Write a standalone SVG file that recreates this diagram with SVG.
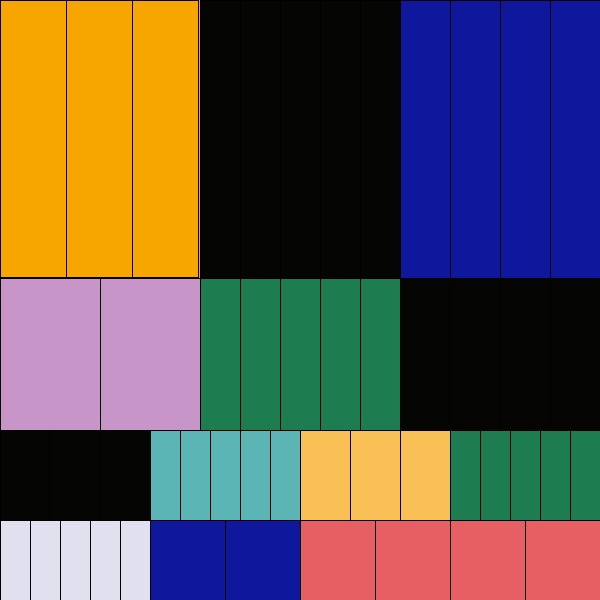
<svg xmlns="http://www.w3.org/2000/svg" width="600" height="600" viewBox="0 0 600 600">
<style>
rect{stroke:#000;stroke-width:1;shape-rendering:crispEdges}
.o{fill:#F7A600}.k{fill:#050503}.b{fill:#0F189D}.p{fill:#C795C7}.g{fill:#1D7D50}
.t{fill:#5BB5B4}.y{fill:#F8C055}.l{fill:#E1E0EE}.r{fill:#E65F63}
</style>
<g id="orange"><rect class="o" x="0" y="0" width="200" height="278" style="stroke:none"/>
<rect class="o" x="0" y="0" width="66.5" height="277.5"/><rect class="o" x="66.5" y="0" width="66" height="277.5"/><rect class="o" x="132.5" y="0" width="66" height="277.5"/></g>
<g id="black1"><rect class="k" x="200" y="0" width="40" height="278"/><rect class="k" x="240" y="0" width="40" height="278"/><rect class="k" x="280" y="0" width="40" height="278"/><rect class="k" x="320" y="0" width="40" height="278"/><rect class="k" x="360" y="0" width="40" height="278"/></g>
<g id="blue1"><rect class="b" x="400" y="0" width="50" height="278"/><rect class="b" x="450" y="0" width="50" height="278"/><rect class="b" x="500" y="0" width="50" height="278"/><rect class="b" x="550" y="0" width="50" height="278"/></g>
<g id="pink"><rect class="p" x="0" y="278" width="100" height="152"/><rect class="p" x="100" y="278" width="100" height="152"/></g>
<g id="green1"><rect class="g" x="200" y="278" width="40" height="152"/><rect class="g" x="240" y="278" width="40" height="152"/><rect class="g" x="280" y="278" width="40" height="152"/><rect class="g" x="320" y="278" width="40" height="152"/><rect class="g" x="360" y="278" width="40" height="152"/></g>
<g id="black2"><rect class="k" x="400" y="278" width="50" height="152"/><rect class="k" x="450" y="278" width="50" height="152"/><rect class="k" x="500" y="278" width="50" height="152"/><rect class="k" x="550" y="278" width="50" height="152"/></g>
<g id="black3"><rect class="k" x="0" y="430" width="50" height="90"/><rect class="k" x="50" y="430" width="50" height="90"/><rect class="k" x="100" y="430" width="50" height="90"/></g>
<g id="teal"><rect class="t" x="150" y="430" width="30" height="90"/><rect class="t" x="180" y="430" width="30" height="90"/><rect class="t" x="210" y="430" width="30" height="90"/><rect class="t" x="240" y="430" width="30" height="90"/><rect class="t" x="270" y="430" width="30" height="90"/></g>
<g id="lightorange"><rect class="y" x="300" y="430" width="50" height="90"/><rect class="y" x="350" y="430" width="50" height="90"/><rect class="y" x="400" y="430" width="50" height="90"/></g>
<g id="green2"><rect class="g" x="450" y="430" width="30" height="90"/><rect class="g" x="480" y="430" width="30" height="90"/><rect class="g" x="510" y="430" width="30" height="90"/><rect class="g" x="540" y="430" width="30" height="90"/><rect class="g" x="570" y="430" width="30" height="90"/></g>
<g id="lavender"><rect class="l" x="0" y="520" width="30" height="80"/><rect class="l" x="30" y="520" width="30" height="80"/><rect class="l" x="60" y="520" width="30" height="80"/><rect class="l" x="90" y="520" width="30" height="80"/><rect class="l" x="120" y="520" width="30" height="80"/></g>
<g id="blue2"><rect class="b" x="150" y="520" width="75" height="80"/><rect class="b" x="225" y="520" width="75" height="80"/></g>
<g id="red1"><rect class="r" x="300" y="520" width="75" height="80"/><rect class="r" x="375" y="520" width="75" height="80"/></g>
<g id="red2"><rect class="r" x="450" y="520" width="75" height="80"/><rect class="r" x="525" y="520" width="75" height="80"/></g>
</svg>
